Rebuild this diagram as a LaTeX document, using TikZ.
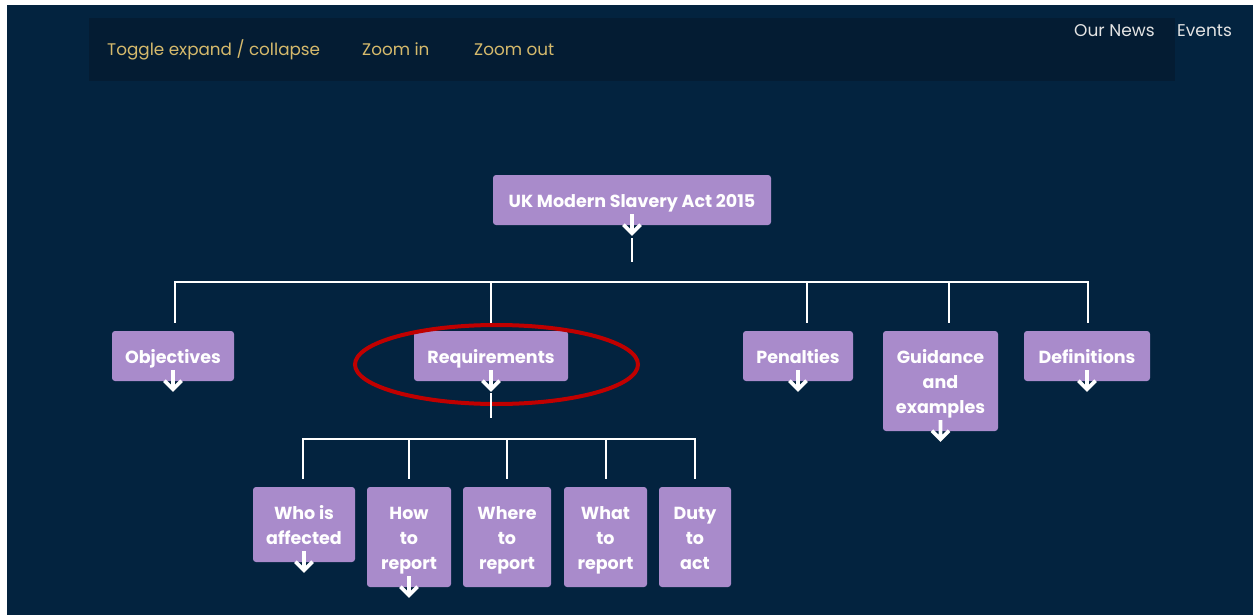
\documentclass[tikz,border=0pt]{standalone}
\usepackage{fontspec}
\setmainfont{Poppins}
\usetikzlibrary{positioning}

\definecolor{navy}{HTML}{03233F}
\definecolor{barnavy}{HTML}{041C33}
\definecolor{lavender}{HTML}{A98BCB}
\definecolor{menugold}{HTML}{D6BA6C}
\definecolor{ringred}{HTML}{C00000}
\definecolor{navgrey}{HTML}{E4E4E4}

% little white "expand" arrow under a topic
\newcommand\openmark[1]{%
  \draw[expandmark] ([yshift=11pt]#1.south) -- ([yshift=-8pt]#1.south)
     ([xshift=-8.5pt,yshift=0.5pt]#1.south) -- ([yshift=-8pt]#1.south) -- ([xshift=8.5pt,yshift=0.5pt]#1.south);}

\begin{document}
\begin{tikzpicture}[
    x=1pt, y=-1pt,
    topic/.style={fill=lavender, rounded corners=3pt, text=white, inner sep=0pt,
                  align=flush center, font=\fontsize{17.5}{25}\selectfont\bfseries,
                  execute at begin node=\rule{0pt}{22.5pt}, execute at end node=\strut},
    link/.style={draw=white, line width=2pt},
    expandmark/.style={draw=white, line width=3.8pt, line join=miter},
    menu/.style={text=menugold, anchor=base west, inner sep=0pt, font=\fontsize{16.8}{20}\selectfont},
    navlink/.style={text=navgrey, anchor=base west, inner sep=0pt, font=\fontsize{17}{20}\selectfont}
]

   % Page and menu bar
   \useasboundingbox (0,0) rectangle (1253,615);
   \fill[white] (0,0) rectangle (1253,615);
   \fill[navy] (7,5) rectangle (1253,615);
   \fill[barnavy] (89,18) rectangle (1175,81);
   \node[menu] (toggle) at (107,56) {Toggle expand / collapse};
   \node[menu] (zin) at (362,56) {Zoom in};
   \node[menu] (zout) at (474,56) {Zoom out};
   \node[navlink] (news) at (1074,37) {Our News};
   \node[navlink] (events) at (1177,37) {Events};

   % Topics
   \node[topic, text width=278pt, minimum height=50pt] (root) at (632,200) {UK Modern Slavery Act 2015};

   \node[topic, text width=122pt, minimum height=50pt] (obj) at (173,356) {Objectives};
   \node[topic, text width=154pt, minimum height=50pt] (req) at (491,356) {Requirements};
   \node[topic, text width=110pt, minimum height=50pt] (pen) at (798,356) {Penalties};
   \node[topic, text width=115pt, minimum height=100pt] (guide) at (940.5,381) {Guidance\\and\\examples};
   \node[topic, text width=126pt, minimum height=50pt] (defs) at (1087,356) {Definitions};

   \node[topic, text width=102pt, minimum height=75pt] (who) at (304,524.5) {Who is\\affected};
   \node[topic, text width=84pt, minimum height=100pt] (how) at (409,537) {How\\to\\report};
   \node[topic, text width=88pt, minimum height=100pt] (where) at (507,537) {Where\\to\\report};
   \node[topic, text width=83pt, minimum height=100pt] (what) at (605.5,537) {What\\to\\report};
   \node[topic, text width=72pt, minimum height=100pt] (duty) at (695,537) {Duty\\to\\act};

   % Highlight ring
   \draw[ringred, line width=4pt] ([xshift=5.5pt,yshift=-8.5pt]req.center) ellipse [x radius=141.5pt, y radius=39.5pt];

   % Branches
   \coordinate (mainbar) at (632,282);
   \coordinate (reqbar) at (491,438.5);

   \draw[link] ([yshift=-13pt]root.south) -- ([yshift=-37pt]root.south);
   \foreach \kid/\dx in {obj/2, req/0, pen/9, guide/8, defs/1}
      \draw[link] ([xshift=\dx pt, yshift=8pt]\kid.north) |- (mainbar);

   \draw[link] ([yshift=-12pt]req.south) -- ([yshift=-37pt]req.south);
   \foreach \kid/\dx in {who/-1, how/0, where/0, what/0, duty/0}
      \draw[link] ([xshift=\dx pt, yshift=8pt]\kid.north) |- (reqbar);

   % Expand arrows
   \foreach \n in {root, obj, req, pen, guide, defs, who, how}
      \openmark{\n};

\end{tikzpicture}
\end{document}
